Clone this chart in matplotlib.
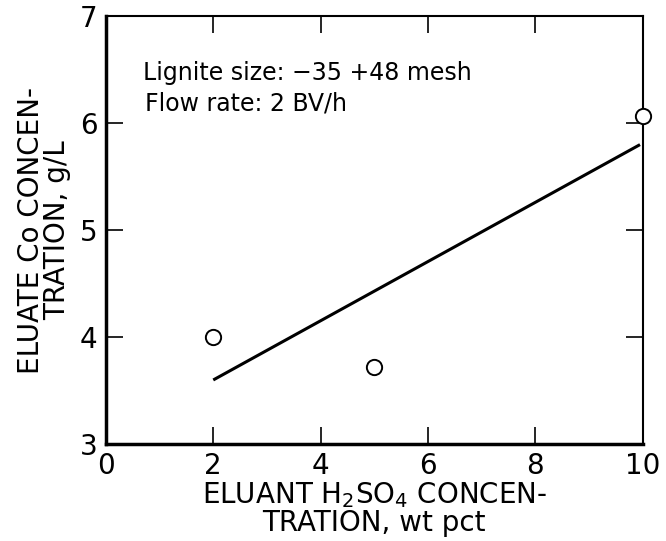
import numpy as np
import matplotlib.pyplot as plt

plt.rcParams['font.family'] = ['DejaVu Sans']

# --- data ---
acid_pct = [2, 5, 10]
co_conc = [4.00, 3.72, 6.07]

fit_x = [2, 9.95]
fit_y = [3.60, 5.80]

x_ticks = [0, 2, 4, 6, 8, 10]
y_ticks = [3, 4, 5, 6, 7]

fig = plt.figure(figsize=(6.66, 5.41), dpi=100)
ax = fig.add_axes([0.159, 0.179, 0.806, 0.791])

ax.plot(fit_x, fit_y, color='black', lw=2.2, solid_capstyle='butt')
ax.plot(acid_pct, co_conc, 'o', mfc='white', mec='black', mew=1.4, ms=11,
        clip_on=False, zorder=5)

ax.set_xlim(0, 10)
ax.set_ylim(3, 7)
ax.set_xticks(x_ticks)
ax.set_yticks(y_ticks)
ax.tick_params(direction='in', length=12, width=1.2, labelsize=20,
               top=True, right=True, pad=6)
for s in ax.spines.values():
    s.set_linewidth(1.5)
ax.spines['left'].set_linewidth(2.5)
ax.spines['bottom'].set_linewidth(2.5)

ax.set_xlabel('ELUANT H$_2$SO$_4$ CONCEN-\nTRATION, wt pct', fontsize=20,
              linespacing=0.95, labelpad=0)
ax.set_ylabel('ELUATE Co CONCEN-\nTRATION, g/L', fontsize=20,
              linespacing=0.95, labelpad=6)

ax.text(0.069, 0.867, 'Lignite size: \u221235 +48 mesh', transform=ax.transAxes,
        fontsize=17, va='center')
ax.text(0.072, 0.797, 'Flow rate: 2 BV/h', transform=ax.transAxes,
        fontsize=17, va='center')

fig.savefig('out.png', dpi=100)
